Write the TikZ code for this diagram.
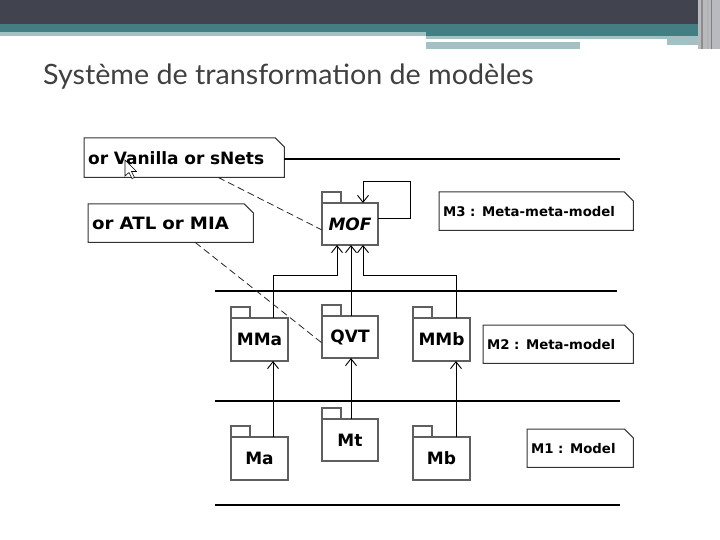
\documentclass[tikz,border=0pt]{standalone}
\usepackage{fontspec}
\setmainfont{DejaVu Sans}
\newfontfamily\titlefont{Lato}
\usetikzlibrary{arrows.meta}
\definecolor{hdrdark}{RGB}{65,67,79}
\definecolor{hdrteal}{RGB}{67,126,130}
\definecolor{hdrlight}{RGB}{163,192,195}
\definecolor{hdrgray}{RGB}{185,185,192}
\definecolor{boxgray}{RGB}{95,95,95}
\definecolor{titlegray}{RGB}{64,64,64}
\begin{document}
\begin{tikzpicture}[x=1pt,y=-1pt,
  pkg/.style={draw=boxgray, line width=1.1pt, fill=white, inner sep=0pt, outer sep=0pt,
    anchor=north west, font=\fontsize{17}{17}\selectfont\bfseries},
  notebox/.style={inner xsep=4pt, inner ysep=0pt, anchor=north west, align=left,
    font=\fontsize{17}{17}\selectfont\bfseries},
  smallnote/.style={notebox, font=\fontsize{13.3}{14}\selectfont\bfseries},
  noteline/.style={draw=black!80, line width=1pt},
  tabline/.style={draw=boxgray, line width=1.1pt},
  level/.style={draw=black, line width=2pt},
  conn/.style={draw=black, line width=0.9pt},
  arr/.style={conn, -{Straight Barb[length=7pt,width=11pt]}},
  dashconn/.style={draw=black!85, line width=0.8pt, dash pattern=on 7pt off 4pt}
]
\useasboundingbox (0,0) rectangle (720,540);
% header
\fill[hdrdark] (0,0) rectangle (720,24);
\fill[hdrteal] (0,24) rectangle (698,32);
\fill[hdrlight] (0,32) rectangle (426,36);
\fill[hdrteal] (426,32) rectangle (698,36);
\fill[hdrlight] (426,36) rectangle (698,39);
\fill[hdrlight] (667,39) rectangle (698,45);
\fill[hdrlight] (426,42) rectangle (580,49);
\fill[hdrgray] (698,0) rectangle (720,49);
\fill[black!45] (701,0) rectangle (703,49);
\fill[black!30] (707,0) rectangle (709,49);
\fill[black!50] (711,0) rectangle (712,49);
% title
\node[anchor=base west, inner sep=0pt, text=titlegray,
  font=\titlefont\fontsize{28}{28}\selectfont] (title) at (43,85)
  {\scalebox{1.025}[1]{Système de transformation de modèles}};
% notes
\node[notebox, minimum height=39pt, text width=192pt] (n1) at (84,138) {or Vanilla or sNets};
\node[notebox, minimum height=38pt, text width=157pt] (n2) at (88,204) {\scalebox{1.07}[1]{or ATL or MIA}};
\node[smallnote, minimum height=38pt, text width=186pt] (n3) at (439,192) {M3 : Meta-meta-model};
\node[smallnote, minimum height=38pt, text width=142pt] (n4) at (483,325) {M2 : Meta-model};
\node[smallnote, minimum height=38pt, text width=98pt] (n5) at (527,429) {M1 : Model};
\foreach \n in {n1,n2,n3,n4,n5}
  \draw[noteline] (\n.north west) -- ([xshift=-9pt]\n.north east) -- ([yshift=-9pt]\n.north east)
    -- (\n.south east) -- (\n.south west) -- cycle;
% level lines
\coordinate (l1e) at (620,159);
\coordinate (l2w) at (215,291); \coordinate (l2e) at (617,291);
\coordinate (l3w) at (215,401); \coordinate (l3e) at (620,401);
\coordinate (l4w) at (215,505); \coordinate (l4e) at (620,505);
\draw[level] (n1.east |- l1e) -- (l1e);
\draw[level] (l2w) -- (l2e);
\draw[level] (l3w) -- (l3e);
\draw[level] (l4w) -- (l4e);
% packages
\node[pkg, minimum width=56pt, minimum height=42pt] (mof) at (322,203) {\itshape MOF};
\node[pkg, minimum width=57pt, minimum height=43pt] (mma) at (231,318) {MMa};
\node[pkg, minimum width=56pt, minimum height=42pt] (qvt) at (322,316) {QVT};
\node[pkg, minimum width=57pt, minimum height=43pt] (mmb) at (413,318) {MMb};
\node[pkg, minimum width=57pt, minimum height=43pt] (ma) at (231,437) {Ma};
\node[pkg, minimum width=56pt, minimum height=42pt] (mt) at (322,419) {Mt};
\node[pkg, minimum width=57pt, minimum height=43pt] (mb) at (413,437) {Mb};
\foreach \n in {mof,mma,qvt,mmb,ma,mt,mb}
  \draw[tabline] (\n.north west) -- ++(0,-11) -- ++(19,0) -- ++(0,11);
% connectors
\draw[arr] ([xshift=13.5pt]ma.north) -- ([xshift=13.5pt]mma.south);
\draw[arr] ([xshift=1pt]mt.north) -- ([xshift=1pt]qvt.south);
\draw[arr] ([xshift=14.5pt]mb.north) -- ([xshift=14.5pt]mmb.south);
\draw[arr] ([xshift=13.5pt]mma.north) |- ([xshift=-13pt,yshift=-30pt]mof.south) -- ([xshift=-13pt]mof.south);
\draw[arr] ([xshift=1pt]qvt.north) -- ([xshift=1pt]mof.south);
\draw[arr] ([xshift=14.5pt]mmb.north) |- ([xshift=13pt,yshift=-30pt]mof.south) -- ([xshift=13pt]mof.south);
\draw[arr] ([yshift=6pt]mof.east) -| ++(32,-37) -| ([xshift=13pt]mof.north);
\draw[dashconn] ([xshift=34pt]n1.south) -- ([yshift=-6pt]mof.west);
\draw[dashconn] ([xshift=24.5pt]n2.south) -- ([yshift=-6pt]qvt.west);
% mouse cursor
\filldraw[fill=white, draw=black, line width=0.6pt]
  (125,160) -- (125,176) -- (129,172.5) -- (132,178.5) -- (134.5,177.5) -- (131.5,171.5) -- (136.5,171.5) -- cycle;
\end{tikzpicture}
\end{document}
